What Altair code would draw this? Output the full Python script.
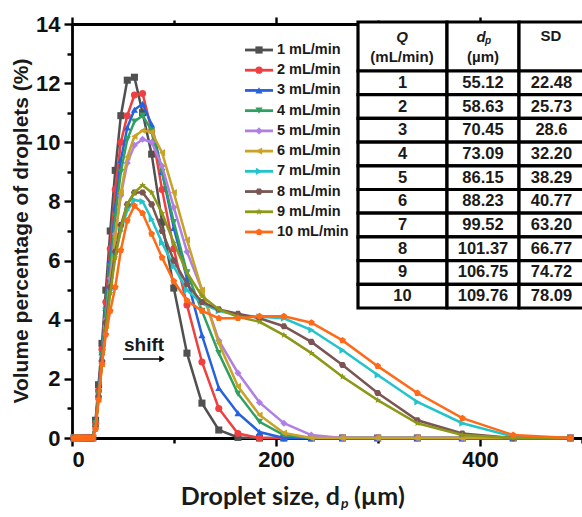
import math
import altair as alt
import pandas as pd

# ---- data -------------------------------------------------------------
# droplet size bins (µm) below the measured range: every series reads 0 here
SIZES_BELOW = [2.0, 2.26, 2.55, 2.88, 3.26, 3.68, 4.16, 4.70, 5.32, 6.01, 6.79,
               7.67, 8.67, 9.79, 11.07, 12.51, 14.13, 15.97, 18.05]
# droplet size bins (µm) of the distribution
SIZES = [20.4, 23.1, 26.0, 29.4, 33.2, 37.5, 42.4, 47.9, 54.2, 61.2, 69.2, 78.1,
         88.3, 99.8, 112.7, 127.4, 143.9, 162.7, 183.8, 207.7, 234.7, 265.2,
         299.7, 338.6, 382.7, 432.5, 488.7]

# volume percentage of droplets (%) per flow rate Q (mL/min)
VOL_Q1 = [0, 0.6, 1.8, 3.2, 5.0, 7.0, 9.05, 10.9, 12.1, 12.2, 11.0, 9.6, 7.3, 5.07,
          2.87, 1.18, 0.27, 0.02, 0, 0, 0, 0, 0, 0, 0, 0, 0]
VOL_Q2 = [0, 0.5, 1.6, 3.0, 4.6, 6.4, 8.4, 10.0, 10.9, 11.6, 11.65, 10.4, 8.4, 6.4,
          4.5, 2.57, 1.0, 0.15, 0, 0, 0, 0, 0, 0, 0, 0, 0]
VOL_Q3 = [0, 0.5, 1.5, 2.9, 4.4, 6.0, 7.8, 9.4, 10.5, 11.1, 11.3, 10.6, 9.0, 7.1,
          5.4, 3.48, 1.69, 0.84, 0.2, 0, 0, 0, 0, 0, 0, 0, 0]
VOL_Q4 = [0, 0.5, 1.5, 2.8, 4.3, 5.8, 7.5, 9.0, 10.1, 10.7, 10.9, 10.4, 9.0, 7.3,
          5.6, 4.3, 2.87, 1.5, 0.55, 0.1, 0, 0, 0, 0, 0, 0, 0]
VOL_Q5 = [0, 0.4, 1.4, 2.6, 4.0, 5.4, 6.9, 8.2, 9.3, 9.9, 10.1, 10.0, 9.2, 7.8,
          6.3, 5.0, 3.3, 2.2, 1.2, 0.5, 0.1, 0, 0, 0, 0, 0, 0]
VOL_Q6 = [0, 0.4, 1.3, 2.5, 3.8, 5.2, 6.8, 8.3, 9.5, 10.2, 10.4, 10.35, 9.65, 8.3,
          6.7, 5.0, 3.2, 1.75, 0.78, 0.17, 0, 0, 0, 0, 0, 0, 0]
VOL_Q7 = [0, 0.4, 1.4, 2.6, 3.8, 5.0, 6.2, 7.0, 7.7, 8.05, 8.0, 7.4, 6.6, 5.8,
          5.0, 4.55, 4.3, 4.15, 4.1, 4.05, 3.65, 2.97, 2.13, 1.22, 0.5, 0.05, 0]
VOL_Q8 = [0, 0.4, 1.4, 2.6, 3.9, 5.1, 6.3, 7.2, 7.9, 8.3, 8.3, 7.9, 7.0, 6.0,
          5.2, 4.6, 4.35, 4.2, 4.05, 3.78, 3.25, 2.47, 1.52, 0.6, 0.15, 0, 0]
VOL_Q9 = [0, 0.4, 1.3, 2.5, 3.7, 4.9, 6.1, 7.1, 7.9, 8.3, 8.55, 8.3, 7.6, 6.6,
          5.6, 4.8, 4.35, 4.1, 3.93, 3.48, 2.87, 2.07, 1.28, 0.5, 0.1, 0, 0]
VOL_Q10 = [0, 0.3, 1.3, 2.5, 3.5, 4.3, 5.1, 6.35, 7.35, 7.85, 7.6, 6.9, 6.1, 5.3,
           4.65, 4.3, 4.05, 4.05, 4.12, 4.12, 3.9, 3.3, 2.43, 1.52, 0.67, 0.1, 0]

FLOW_RATES = [1, 2, 3, 4, 5, 6, 7, 8, 9, 10]
SERIES = [VOL_Q1, VOL_Q2, VOL_Q3, VOL_Q4, VOL_Q5, VOL_Q6, VOL_Q7, VOL_Q8,
          VOL_Q9, VOL_Q10]

# mean droplet size and standard deviation per flow rate
DP_TEXT = ["55.12", "58.63", "70.45", "73.09", "86.15", "88.23", "99.52",
           "101.37", "106.75", "109.76"]
SD_TEXT = ["22.48", "25.73", "28.6", "32.20", "38.29", "40.77", "63.20",
           "66.77", "74.72", "78.09"]

# ---- styling ----------------------------------------------------------
FONT = "Liberation Sans"
COLORS = ["#505050", "#ee4040", "#2462de", "#2fa062", "#b07fe6", "#c9a227",
          "#22c4cc", "#7b5454", "#8c9818", "#ff6a18"]


def poly_path(points):
    return "M" + "L".join(f"{x:.3f},{y:.3f}" for x, y in points) + "Z"


HEXAGON = poly_path([(math.cos(math.radians(a)), math.sin(math.radians(a)))
                     for a in range(0, 360, 60)])
PENTAGON = poly_path([(math.cos(math.radians(-90 + 72 * k)),
                       math.sin(math.radians(-90 + 72 * k))) for k in range(5)])
STAR = poly_path([((1.0 if k % 2 == 0 else 0.42) * math.cos(math.radians(-90 + 36 * k)),
                   (1.0 if k % 2 == 0 else 0.42) * math.sin(math.radians(-90 + 36 * k)))
                  for k in range(10)])
SHAPES = ["square", "circle", "triangle-up", "triangle-down", "diamond",
          "triangle-left", "triangle-right", HEXAGON, STAR, PENTAGON]

# ---- tables -------------------------------------------------------------
rows = []
for q, vals in zip(FLOW_RATES, SERIES):
    for s in SIZES_BELOW:
        rows.append({"q": q, "size": s, "pct": 0.0})
    for s, v in zip(SIZES, vals):
        rows.append({"q": q, "size": s, "pct": v})
df = pd.DataFrame(rows)

legend_df = pd.DataFrame({
    "q": FLOW_RATES,
    "row": list(range(len(FLOW_RATES))),
    "label": [f"{q} mL/min" for q in FLOW_RATES],
})

table_df = pd.DataFrame({
    "q": [str(q) for q in FLOW_RATES],
    "dp": DP_TEXT,
    "sd": SD_TEXT,
    "r0": list(range(10)),
    "r1": [i + 1 for i in range(10)],
    "rc": [i + 0.5 for i in range(10)],
})
one = pd.DataFrame({"k": [0]})

# ---- scales -------------------------------------------------------------
XS = alt.Scale(domain=[0, 500], nice=False, zero=False)
YS = alt.Scale(domain=[0, 14], nice=False)
x_plain = alt.X("size:Q", scale=XS, axis=None)
y_plain = alt.Y("pct:Q", scale=YS, axis=None)

major_x = "datum.value % 200 == 0"
major_y = "datum.value % 2 == 0"

axis_common = dict(domainColor="black", domainWidth=2.8, tickColor="black",
                   tickWidth=2.4, labelFont=FONT, labelFontSize=22,
                   labelFontWeight="bold", labelColor="#111", grid=False,
                   title=None)

bottom_axes = alt.Chart(df).mark_point(opacity=0).encode(
    x=alt.X("size:Q", scale=XS, axis=alt.Axis(
        values=[0, 100, 200, 300, 400, 500],
        labelExpr=f"{major_x} ? datum.label : ''",
        tickSize={"condition": {"test": major_x, "value": 8}, "value": 5},
        labelPadding=3, labelOverlap=False, **axis_common)),
    y=alt.Y("pct:Q", scale=YS, axis=alt.Axis(
        values=list(range(15)),
        labelExpr=f"{major_y} ? datum.label : ''",
        tickSize={"condition": {"test": major_y, "value": 8}, "value": 5},
        labelPadding=4, labelOverlap=False, **axis_common)),
)

top_axis = alt.Chart(df).mark_point(opacity=0).encode(
    x=alt.X("size:Q", scale=XS, axis=alt.Axis(
        orient="top", values=[0, 100, 200, 300, 400, 500], labels=False,
        tickSize={"condition": {"test": major_x, "value": 7}, "value": 4},
        **axis_common)),
    y=y_plain,
)

layers = [bottom_axes, top_axis]

# curves: line + markers per flow rate, drawn in order so 10 mL/min ends on top
for q, color, shape in zip(FLOW_RATES, COLORS, SHAPES):
    base = alt.Chart(df).transform_filter(alt.datum.q == q)
    layers.append(base.mark_line(color=color, strokeWidth=2.5).encode(
        x=x_plain, y=y_plain))
    layers.append(base.mark_point(color=color, filled=True, opacity=1,
                                  size=50, shape=shape).encode(
        x=x_plain, y=y_plain))

# legend
LEG_Y = alt.Scale(domain=[0, 9], range=[26, 208])
leg_color = alt.Color("q:N", scale=alt.Scale(domain=FLOW_RATES, range=COLORS),
                      legend=None)
leg_shape = alt.Shape("q:N", scale=alt.Scale(domain=FLOW_RATES, range=SHAPES),
                      legend=None)
leg_y = alt.Y("row:Q", scale=LEG_Y, axis=None)
legend = alt.Chart(legend_df)
layers += [
    legend.mark_rule(strokeWidth=2.8).encode(
        x=alt.value(173), x2=alt.value(201), y=leg_y, color=leg_color),
    legend.mark_point(filled=True, opacity=1, size=52).encode(
        x=alt.value(187), y=leg_y, color=leg_color, shape=leg_shape),
    legend.mark_text(align="left", baseline="middle", font=FONT, fontSize=14.5,
                     fontWeight="bold", color="#1a1a1a").encode(
        x=alt.value(205), y=leg_y, text="label:N"),
]

# table of mean size and SD
TAB_Y = alt.Scale(domain=[0, 10], range=[47, 284])
COLS = [(286, 375, "q"), (375, 447, "dp"), (447, 512, "sd")]
cell = dict(fill="white", stroke="black", strokeWidth=3.2)
for left, right, field in COLS:
    layers.append(alt.Chart(one).mark_rect(**cell).encode(
        x=alt.value(left), x2=alt.value(right),
        y=alt.value(-2), y2=alt.value(47)))
    layers.append(alt.Chart(table_df).mark_rect(**cell).encode(
        x=alt.value(left), x2=alt.value(right),
        y=alt.Y("r0:Q", scale=TAB_Y, axis=None), y2="r1:Q"))
    layers.append(alt.Chart(table_df).mark_text(
        align="center", baseline="middle", font=FONT, fontSize=16.5,
        fontWeight="bold", color="#1a1a1a").encode(
        x=alt.value((left + right) / 2),
        y=alt.Y("rc:Q", scale=TAB_Y, axis=None), text=f"{field}:N"))


def label(text, x, y, size=15, style="normal", weight="bold", align="center",
          font=FONT, angle=0):
    return alt.Chart(one).mark_text(
        text=text, align=align, baseline="middle", font=font, fontSize=size,
        fontStyle=style, fontWeight=weight, color="#1a1a1a", angle=angle).encode(
        x=alt.value(x), y=alt.value(y))


layers += [
    label("Q", 330, 13, style="italic"),
    label("(mL/min)", 330, 33),
    label("d", 409, 13, style="italic"),
    label("p", 416, 17, size=10, style="italic"),
    label("(µm)", 411, 33),
    label("SD", 479, 12),
]

# shift annotation
layers += [
    label("shift", 72, 321, size=19),
    alt.Chart(one).mark_rule(color="black", strokeWidth=1.6).encode(
        x=alt.value(51), x2=alt.value(88), y=alt.value(335)),
    alt.Chart(one).mark_point(shape="triangle-right", filled=True, opacity=1,
                              color="black", size=40).encode(
        x=alt.value(90), y=alt.value(335)),
]

# axis titles
layers += [
    label("Volume percentage of droplets (%)", -50, 207, size=21, angle=270),
    label("Droplet size, d", 268, 473, size=25, align="right", font="Lato"),
    label("p", 269, 480, size=14, style="italic", align="left", font="Lato"),
    label("(µm)", 282, 473, size=25, align="left", font="Lato"),
]

chart = alt.layer(*layers).resolve_scale(y="independent").resolve_axis(
    x="independent", y="independent"
).properties(
    width=510, height=414,
    autosize=alt.AutoSizeParams(type="none"),
    padding={"left": 72, "top": 24, "right": 0, "bottom": 79},
).configure_view(stroke=None)

chart.save("out.html", embed_options={"renderer": "svg", "actions": False})
